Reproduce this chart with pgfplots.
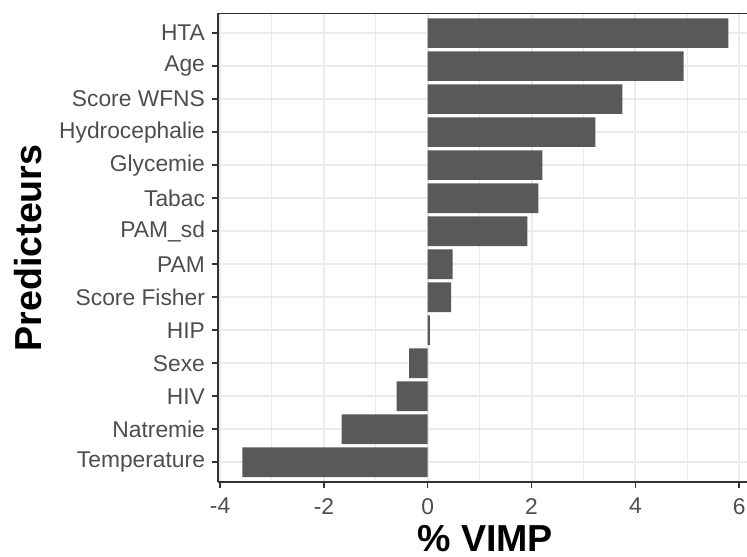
\documentclass[border=0pt]{standalone}
\usepackage{fontspec}
\setmainfont{Liberation Sans}
\usepackage{pgfplots}
\pgfplotsset{compat=1.18}
\definecolor{barc}{HTML}{595959}
\definecolor{gridc}{HTML}{EBEBEB}
\definecolor{borderc}{HTML}{333333}
\definecolor{tickc}{HTML}{4D4D4D}
\begin{document}
\begin{tikzpicture}
\begin{axis}[
  scale only axis, width=264.5pt, height=234.35pt,
  xmin=-4.04, xmax=6.15, ymin=-0.6, ymax=13.6,
  xbar, bar width=0.9, bar shift=0pt,
  xtick={-4,-2,0,2,4,6}, minor xtick={-3,-1,1,3,5},
  ytick={0,...,13},
  yticklabels={Temperature,Natremie,HIV,Sexe,HIP,Score Fisher,PAM,PAM\_sd,Tabac,Glycemie,Hydrocephalie,Score WFNS,Age,HTA},
  grid=both,
  major grid style={gridc, line width=1pt},
  minor grid style={gridc, line width=0.5pt},
  axis x line=box, axis y line*=left,
  axis line style={borderc, line width=0.75pt},
  tick align=outside, xtick pos=bottom, ytick pos=left,
  major tick length=3pt, minor tick length=0pt,
  major tick style={borderc, line width=0.75pt},
  tick label style={font=\fontsize{11.4}{13}\selectfont, color=tickc},
  xticklabel style={yshift=-1.5pt},
  /pgf/number format/assume math mode=true,
  xlabel={\% VIMP}, ylabel={Predicteurs},
  label style={font=\fontsize{18.8}{21}\selectfont\bfseries, black},
  xlabel style={at={(axis description cs:0.505,-0.1472)}, anchor=base, inner sep=0pt},
  ylabel style={at={(axis description cs:-0.3333,0.4993)}, anchor=base},
]
\addplot[fill=barc, draw=none] coordinates {
  (-3.57,0) (-1.66,1) (-0.60,2) (-0.36,3) (0.04,4) (0.45,5) (0.48,6)
  (1.92,7) (2.13,8) (2.21,9) (3.23,10) (3.75,11) (4.93,12) (5.79,13)
};
\coordinate (bbl) at (axis description cs:-0.4121,-0.1579);
\coordinate (btr) at (axis description cs:1.0,1.0284);
\end{axis}
\pgfresetboundingbox
\path[use as bounding box] (bbl) rectangle (btr);
\end{tikzpicture}
\end{document}
